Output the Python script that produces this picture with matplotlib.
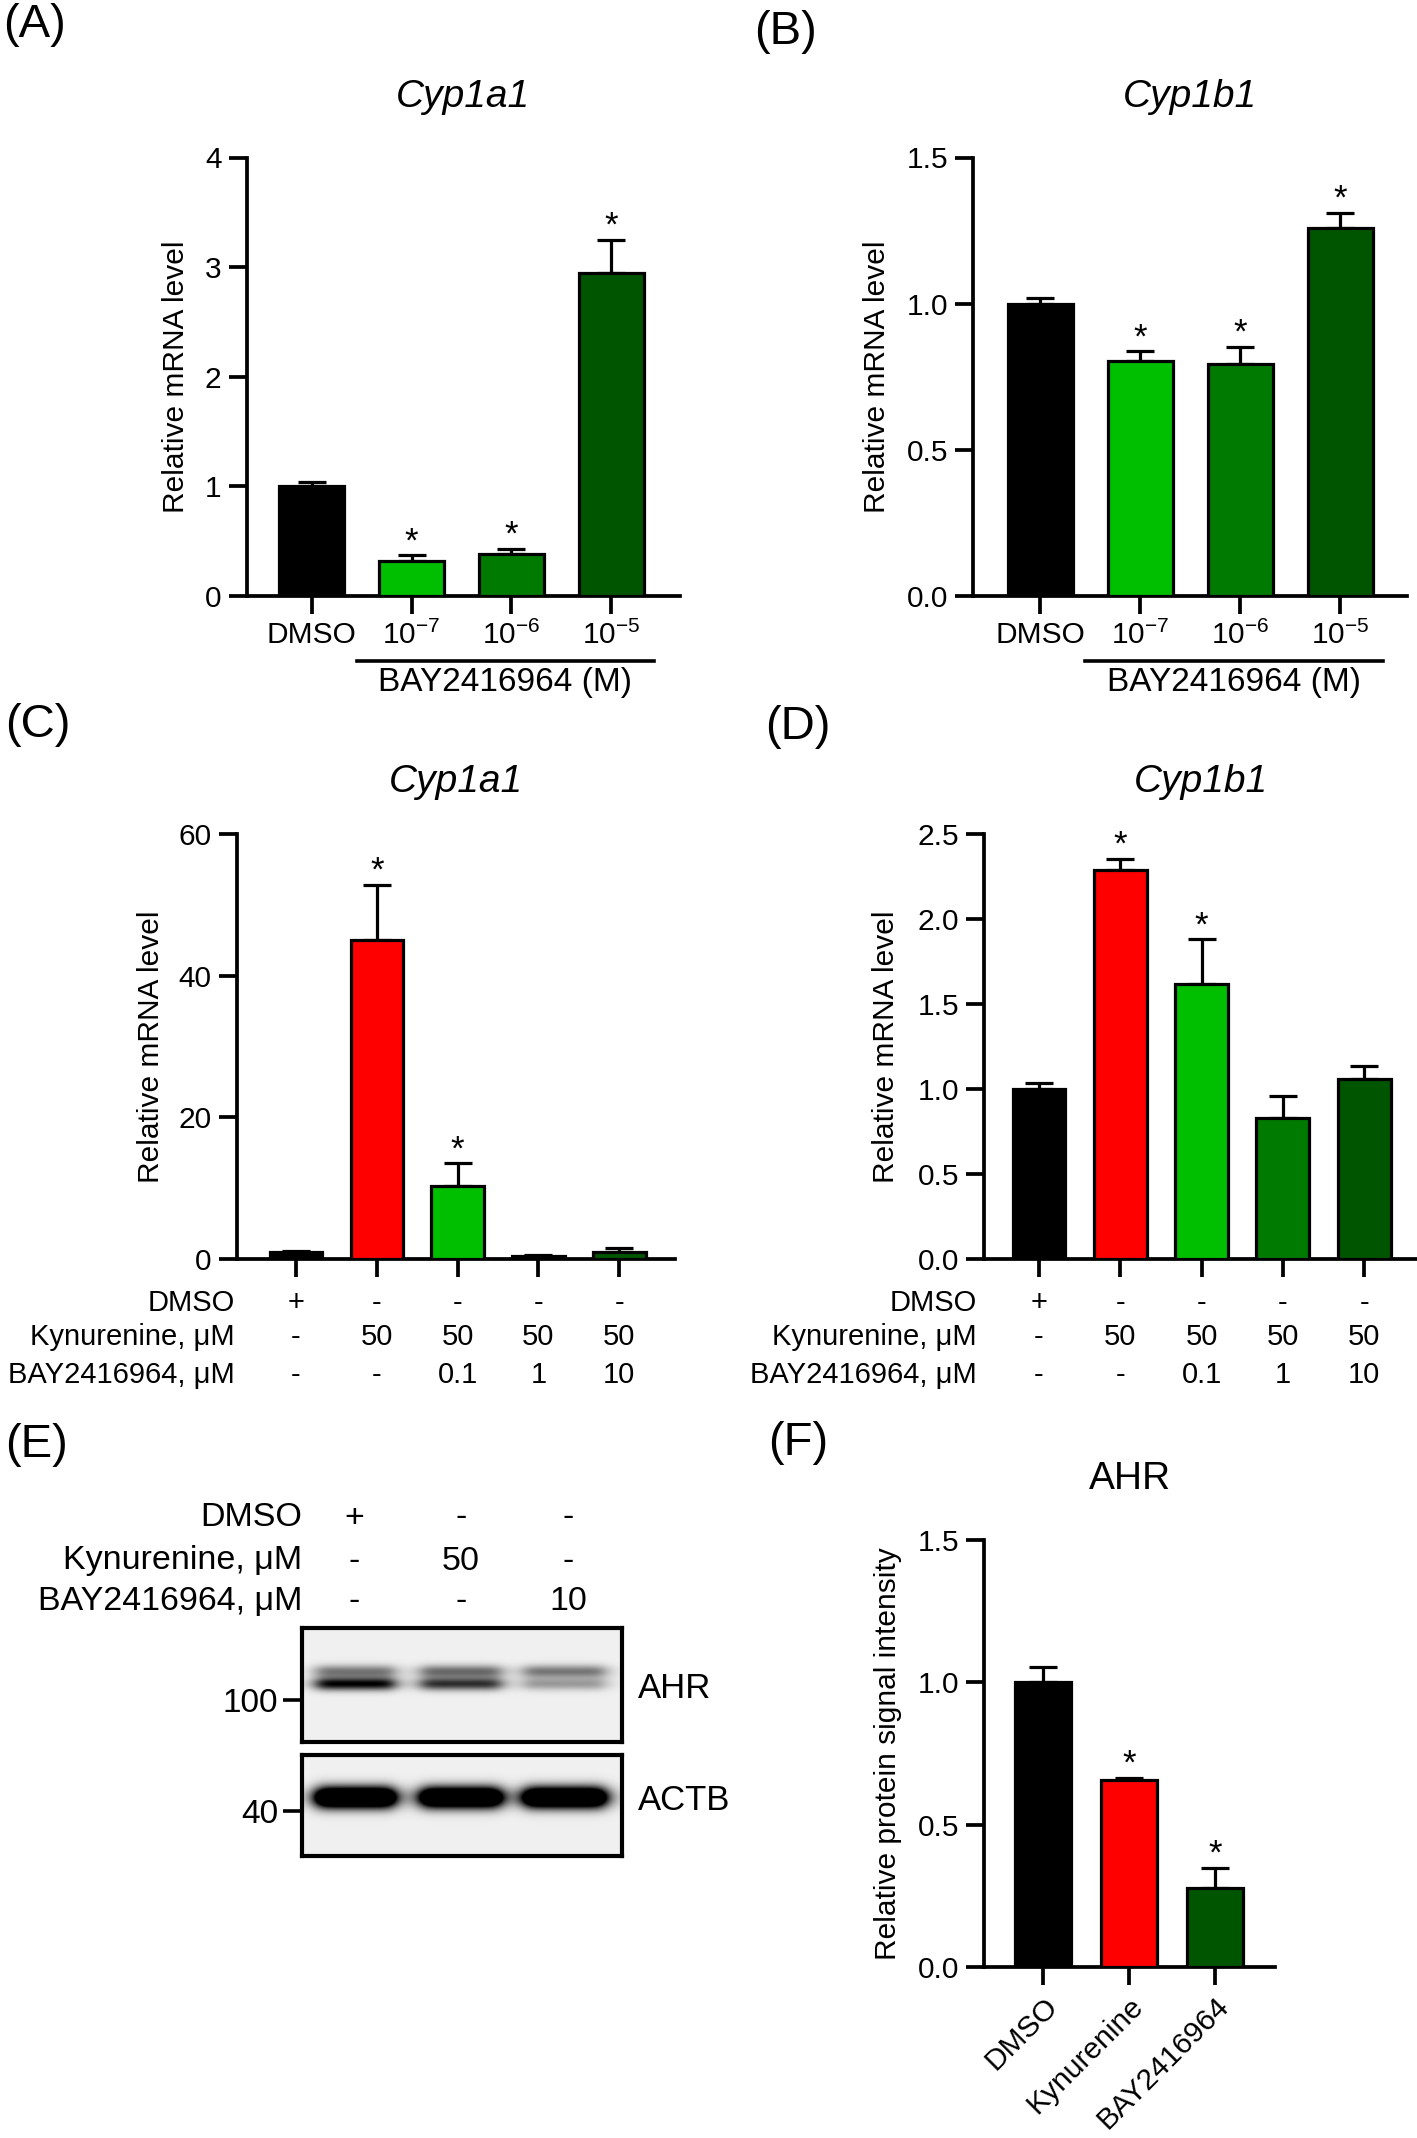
import numpy as np
import matplotlib
matplotlib.use('Agg')
import matplotlib.pyplot as plt
import matplotlib.transforms as mtransforms

plt.rcParams['font.family'] = ['Liberation Sans', 'DejaVu Sans']
plt.rcParams['mathtext.fontset'] = 'custom'
plt.rcParams['mathtext.rm'] = 'Liberation Sans'
plt.rcParams['mathtext.it'] = 'Liberation Sans:italic'

# Datos
# (A) Cyp1a1 / (B) Cyp1b1, BAY2416964 doses
ab_labels = ['DMSO', '10$^{-7}$', '10$^{-6}$', '10$^{-5}$']
a_vals = [1.00, 0.32, 0.38, 2.95]
a_errs = [0.04, 0.05, 0.05, 0.30]
a_stars = [False, True, True, True]
b_vals = [1.00, 0.805, 0.795, 1.258]
b_errs = [0.02, 0.032, 0.058, 0.052]
b_stars = [False, True, True, True]
ab_colors = ['#000000', '#00BF00', '#007A00', '#005500']

# (C) Cyp1a1 / (D) Cyp1b1, kynurenine + BAY2416964
c_vals = [1.0, 45.1, 10.3, 0.4, 1.0]
c_errs = [0.2, 7.7, 3.2, 0.2, 0.5]
c_stars = [False, True, True, False, False]
d_vals = [1.00, 2.29, 1.62, 0.83, 1.06]
d_errs = [0.035, 0.065, 0.26, 0.13, 0.073]
d_stars = [False, True, True, False, False]
cd_colors = ['#000000', '#FF0000', '#00BF00', '#007A00', '#005500']
row_names = ['DMSO', 'Kynurenine, μM', 'BAY2416964, μM']
cd_dmso = ['+', '-', '-', '-', '-']
cd_kyn = ['-', '50', '50', '50', '50']
cd_bay = ['-', '-', '0.1', '1', '10']

# (E) western blot
e_dmso = ['+', '-', '-']
e_kyn = ['-', '50', '-']
e_bay = ['-', '-', '10']
ahr_upper = [0.50, 0.55, 0.50]
ahr_lower = [1.00, 0.80, 0.35]
actb_band = [1.00, 0.97, 0.98]

# (F) AHR quantification
f_labels = ['DMSO', 'Kynurenine', 'BAY2416964']
f_vals = [1.00, 0.658, 0.276]
f_errs = [0.055, 0.007, 0.072]
f_stars = [False, True, True]
f_colors = ['#000000', '#FF0000', '#005500']

W, H = 1417, 2138
fig = plt.figure(figsize=(W / 100, H / 100), dpi=100)


def add_ax(l, r, t, b):
    return fig.add_axes([l / W, 1 - b / H, (r - l) / W, (b - t) / H])


def bar_panel(ax, vals, errs, colors, stars, xlim, ylim, yticks, fmt):
    x = np.arange(len(vals))
    ax.bar(x, vals, width=0.65, color=colors, edgecolor='black', linewidth=2.3, zorder=3)
    ax.errorbar(x, vals, yerr=[np.zeros(len(vals)), errs], fmt='none', ecolor='black',
                elinewidth=2.3, capsize=10, capthick=2.3, zorder=2, clip_on=False)
    for xi, v, e, s in zip(x, vals, errs, stars):
        if s:
            ax.annotate('*', (xi, v + e), xytext=(0, 3), textcoords='offset points',
                        ha='center', va='baseline', fontsize=25, annotation_clip=False)
    ax.set_xlim(xlim)
    ax.set_ylim(ylim)
    ax.set_yticks(yticks)
    ax.set_yticklabels([fmt.format(t) for t in yticks])
    ax.set_xticks(x)
    for s in ['top', 'right']:
        ax.spines[s].set_visible(False)
    for s in ['left', 'bottom']:
        ax.spines[s].set_linewidth(2.7)
    ax.tick_params(direction='out', length=13, width=2.7, labelsize=21.5, pad=5)
    return x


def ylab(ax, text, xc):
    ax.set_ylabel(text, fontsize=21.5)
    ax.yaxis.label.set_va('center')
    ax.yaxis.set_label_coords(xc, 0.5)


# (A)
axA = add_ax(246.6, 680, 157.5, 596)
bar_panel(axA, a_vals, a_errs, ab_colors, a_stars, (-0.654, 3.69), (0, 4), [0, 1, 2, 3, 4], '{:g}')
axA.set_xticklabels(ab_labels)
ylab(axA, 'Relative mRNA level', -0.163)
axA.set_title('Cyp1a1', fontsize=28, style='italic', pad=0, y=1.115)

# (B)
axB = add_ax(973, 1407, 157.5, 596)
bar_panel(axB, b_vals, b_errs, ab_colors, b_stars, (-0.67, 3.67), (0, 1.5), [0, 0.5, 1.0, 1.5], '{:.1f}')
axB.set_xticklabels(ab_labels)
ylab(axB, 'Relative mRNA level', -0.221)
axB.set_title('Cyp1b1', fontsize=28, style='italic', pad=0, y=1.115)

for ax in (axA, axB):
    tr = mtransforms.blended_transform_factory(ax.transData, ax.transAxes)
    ax.plot([0.45, 3.43], [-0.148, -0.148], color='black', lw=2.6, transform=tr, clip_on=False)
    ax.text(1.94, -0.198, 'BAY2416964 (M)', transform=tr, ha='center', va='center', fontsize=24)

# (C)
axC = add_ax(236.5, 675, 834, 1259)
bar_panel(axC, c_vals, c_errs, cd_colors, c_stars, (-0.737, 4.69), (0, 60), [0, 20, 40, 60], '{:g}')
ylab(axC, 'Relative mRNA level', -0.195)
axC.set_title('Cyp1a1', fontsize=28, style='italic', pad=0, y=1.098)

# (D)
axD = add_ax(984, 1417, 834, 1259)
bar_panel(axD, d_vals, d_errs, cd_colors, d_stars, (-0.677, 4.65), (0, 2.5), [0, 0.5, 1.0, 1.5, 2.0, 2.5], '{:.1f}')
ylab(axD, 'Relative mRNA level', -0.226)
axD.set_title('Cyp1b1', fontsize=28, style='italic', pad=0, y=1.098)

for ax, xlab in ((axC, -0.755), (axD, -0.763)):
    ax.set_xticklabels([])
    tr = mtransforms.blended_transform_factory(ax.transData, ax.transAxes)
    for yy, name, row in zip([-0.1035, -0.1835, -0.273], row_names, [cd_dmso, cd_kyn, cd_bay]):
        ax.text(xlab, yy, name, transform=tr, ha='right', va='center', fontsize=21)
        for xi, v in enumerate(row):
            ax.text(xi, yy, v, transform=tr, ha='center', va='center', fontsize=21)

# (E) western blot
lane_c = [0.166, 0.497, 0.822]
lane_hw = [0.125, 0.128, 0.13]


def blot_image(ny, bands):
    xs = np.linspace(0, 1, 320)[None, :]
    ys = np.linspace(0, 1, ny)[:, None]
    dark = np.zeros((ny, 320))
    for yc, sig, inten in bands:
        for c, hw, k in zip(lane_c, lane_hw, inten):
            hprof = 1 / (1 + ((xs - c) / hw) ** 8)
            vprof = np.exp(-0.5 * ((ys - yc) / sig) ** 2)
            dark += k * hprof * vprof
    return 0.94 - 0.94 * np.clip(dark, 0, 1)


axE1 = add_ax(302, 622, 1628, 1742)
axE1.imshow(blot_image(114, [(0.38, 0.04, ahr_upper), (0.49, 0.04, ahr_lower)]),
            cmap='gray', vmin=0, vmax=1, extent=[0, 1, 1, 0], aspect='auto')
axE2 = add_ax(302, 622, 1755, 1856)
axE2.imshow(blot_image(101, [(0.42, 0.075, [2 * v for v in actb_band])]),
            cmap='gray', vmin=0, vmax=1, extent=[0, 1, 1, 0], aspect='auto')
for ax, mw, yt, name in ((axE1, '100', 0.63, 'AHR'), (axE2, '40', 0.55, 'ACTB')):
    for s in ax.spines.values():
        s.set_linewidth(3)
    ax.set_xticks([])
    ax.set_yticks([yt])
    ax.set_yticklabels([mw])
    ax.tick_params(axis='y', direction='out', length=14, width=2.6, labelsize=24, pad=3)
    ax.text(1.05, 1 - yt + 0.1, name, transform=ax.transAxes, ha='left', va='center', fontsize=25)

for yy, name, row in zip([1518, 1561, 1602], row_names, [e_dmso, e_kyn, e_bay]):
    fig.text(302 / W, 1 - yy / H, name, ha='right', va='center', fontsize=24.5)
    for xx, v in zip([354, 461, 568], row):
        fig.text(xx / W, 1 - yy / H, v, ha='center', va='center', fontsize=24.5)

# (F)
axF = add_ax(984, 1275, 1540, 1967)
bar_panel(axF, f_vals, f_errs, f_colors, f_stars, (-0.686, 2.70), (0, 1.5), [0, 0.5, 1.0, 1.5], '{:.1f}')
axF.set_xticklabels(f_labels, rotation=45, ha='right', rotation_mode='anchor')
ylab(axF, 'Relative protein signal intensity', -0.33)
axF.set_title('AHR', fontsize=28, pad=0, y=1.12)

# Panel letters
for letter, x, y in [('(A)', 3, 3), ('(B)', 754, 10), ('(C)', 5, 703), ('(D)', 765, 705),
                     ('(E)', 5, 1423), ('(F)', 768, 1421)]:
    fig.text(x / W, 1 - y / H, letter, ha='left', va='top', fontsize=34)

fig.savefig('out.png', dpi=100)
